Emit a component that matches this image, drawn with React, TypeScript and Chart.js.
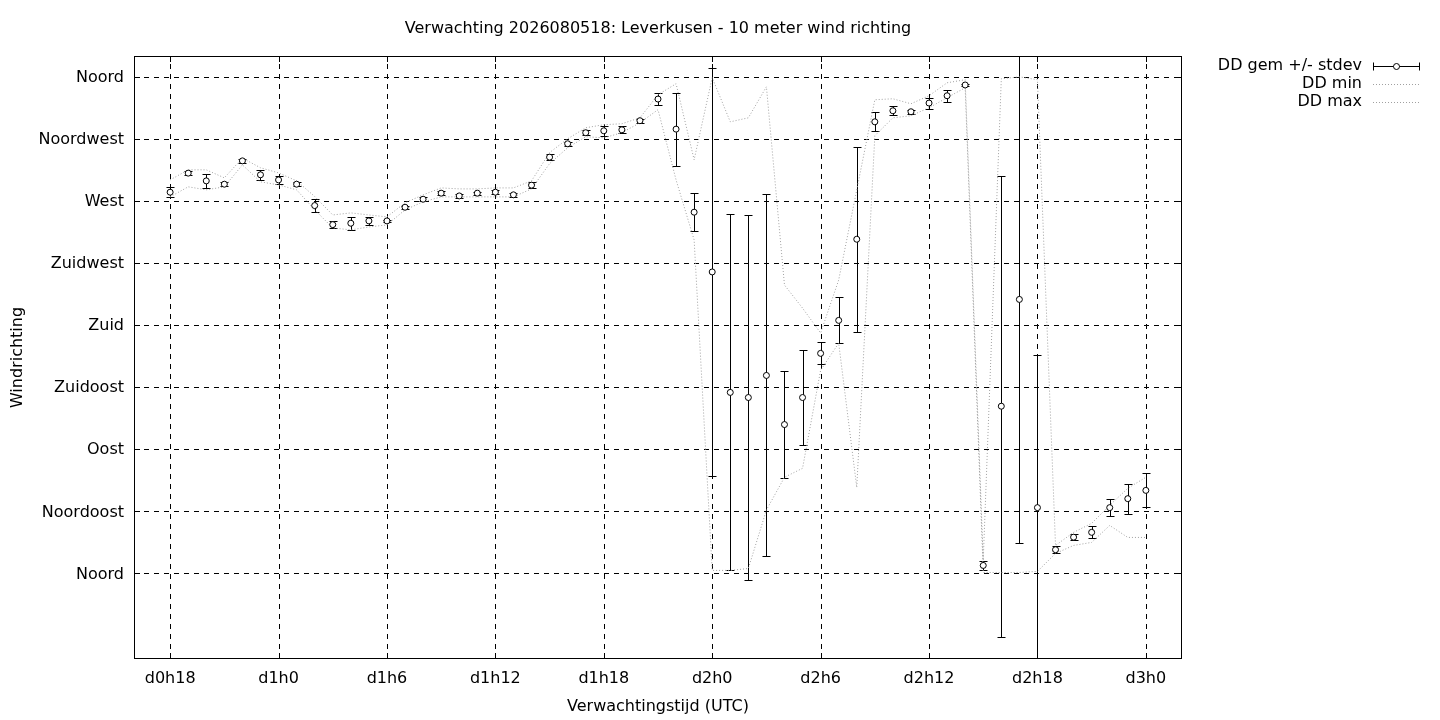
import React, { useEffect, useRef } from "react";
import { Chart, registerables } from "chart.js";

Chart.register(...registerables);

// Forecast hours since d0h0
const hours = [
  18, 19, 20, 21, 22, 23, 24, 25, 26, 27, 28, 29, 30, 31, 32, 33, 34, 35, 36,
  37, 38, 39, 40, 41, 42, 43, 44, 45, 46, 47, 48, 49, 50, 51, 52, 53, 54, 55,
  56, 57, 58, 59, 60, 61, 62, 63, 64, 65, 66, 67, 68, 69, 70, 71, 72,
];

// DD gem (mean wind direction, degrees)
const ddMean = [
  276.3, 290.1, 284.5, 282.1, 299.0, 288.9, 285.2, 282.1, 266.6, 252.8, 253.8,
  255.5, 255.5, 265.4, 271.2, 275.6, 273.6, 275.6, 276.3, 274.4, 281.4, 301.7,
  311.4, 319.4, 320.8, 321.5, 328.1, 343.8, 322.0, 261.8, 218.5, 131.2, 127.5,
  143.5, 107.9, 127.5, 159.5, 183.4, 242.2, 327.3, 335.3, 334.6, 340.9, 346.2,
  354.0, 5.8, 121.2, 198.6, 47.7, 17.2, 26.3, 29.8, 47.7, 54.2, 60.2,
];

// standard deviation (degrees)
const ddStdev = [
  3.6, 1.5, 5.3, 1.5, 1.5, 3.5, 3.0, 1.5, 5.0, 2.7, 4.6, 2.7, 1.0, 1.2, 1.5,
  1.5, 1.5, 1.2, 1.5, 1.5, 2.0, 2.0, 1.5, 2.0, 3.6, 2.5, 1.5, 4.2, 26.5, 13.9,
  148.0, 129.0, 132.6, 131.2, 38.7, 34.3, 7.9, 16.7, 66.9, 7.0, 3.4, 1.5, 4.0,
  4.5, 1.0, 3.1, 167.0, 176.2, 110.5, 2.4, 2.2, 4.4, 6.3, 10.9, 12.3,
];

// DD min
const ddMin = [
  272.9, 280.2, 278.0, 280.2, 296.1, 283.8, 281.6, 278.0, 263.5, 250.4, 249.0,
  251.1, 252.6, 263.5, 269.3, 272.9, 272.9, 272.9, 272.9, 272.9, 278.7, 297.0,
  308.5, 316.5, 315.7, 319.4, 326.6, 336.1, 285.2, 241.7, 2.2, 2.2, 3.6, 46.0,
  69.7, 76.2, 147.3, 166.9, 62.4, 317.2, 330.2, 331.7, 337.5, 344.8, 352.0,
  0.7, 0.7, 0.7, 1.5, 14.5, 20.3, 22.5, 34.8, 26.1, 26.1,
];

// DD max
const ddMax = [
  285.2, 292.5, 292.5, 286.7, 301.0, 294.0, 290.3, 284.5, 273.2, 259.8, 261.3,
  259.8, 258.4, 268.6, 274.4, 279.4, 278.7, 278.7, 279.4, 279.4, 284.5, 305.0,
  315.0, 323.0, 325.2, 325.9, 330.2, 346.9, 354.9, 299.8, 359.3, 327.3, 330.2,
  352.7, 209.0, 192.3, 174.2, 212.7, 278.0, 343.3, 344.0, 340.4, 346.2, 355.6,
  357.8, 9.4, 358.5, 359.9, 357.8, 20.3, 29.8, 36.3, 49.4, 61.7, 69.7,
];

const yTickValues = [0, 45, 90, 135, 180, 225, 270, 315, 360];
const yTickLabels = [
  "Noord", "Noordoost", "Oost", "Zuidoost", "Zuid", "Zuidwest", "West",
  "Noordwest", "Noord",
];
const xTickValues = [18, 24, 30, 36, 42, 48, 54, 60, 66, 72];
const xTickLabels = [
  "d0h18", "d1h0", "d1h6", "d1h12", "d1h18", "d2h0", "d2h6", "d2h12",
  "d2h18", "d3h0",
];

const titleText = "Verwachting 2026080518: Leverkusen - 10 meter wind richting";
const xTitle = "Verwachtingstijd (UTC)";
const yTitle = "Windrichting";
const legendLabels = ["DD gem +/- stdev", "DD min", "DD max"];

const FONT = "16px 'DejaVu Sans', sans-serif";
const DOT_COLOR = "#a0a0a0";

const gnuplotPlugin = {
  id: "gnuplotLook",
  beforeDatasetsDraw(chart: any) {
    const { ctx, chartArea: a, scales } = chart;
    const x = scales.x;
    const y = scales.y;
    ctx.save();
    ctx.strokeStyle = "#000";
    ctx.lineWidth = 1;
    ctx.setLineDash([5, 5]);
    xTickValues.forEach((v) => {
      const px = Math.round(x.getPixelForValue(v)) + 0.5;
      ctx.beginPath();
      ctx.moveTo(px, a.bottom);
      ctx.lineTo(px, a.top);
      ctx.stroke();
    });
    yTickValues.forEach((v) => {
      const py = Math.round(y.getPixelForValue(v)) + 0.5;
      ctx.beginPath();
      ctx.moveTo(a.left, py);
      ctx.lineTo(a.right, py);
      ctx.stroke();
    });
    ctx.setLineDash([]);
    // error bars
    ctx.beginPath();
    ctx.rect(a.left, a.top, a.right - a.left, a.bottom - a.top);
    ctx.clip();
    ctx.strokeStyle = "#000";
    hours.forEach((h, i) => {
      const px = Math.round(x.getPixelForValue(h)) + 0.5;
      const top = Math.round(y.getPixelForValue(ddMean[i] + ddStdev[i])) + 0.5;
      const bot = Math.round(y.getPixelForValue(ddMean[i] - ddStdev[i])) + 0.5;
      ctx.beginPath();
      ctx.moveTo(px, top);
      ctx.lineTo(px, bot);
      ctx.moveTo(px - 4, top);
      ctx.lineTo(px + 4, top);
      ctx.moveTo(px - 4, bot);
      ctx.lineTo(px + 4, bot);
      ctx.stroke();
    });
    ctx.restore();
  },
  afterDatasetsDraw(chart: any) {
    const { ctx, chartArea: a, scales } = chart;
    const x = scales.x;
    const y = scales.y;
    ctx.save();
    ctx.strokeStyle = "#000";
    ctx.lineWidth = 1;
    ctx.setLineDash([]);
    ctx.strokeRect(
      Math.round(a.left) + 0.5,
      Math.round(a.top) + 0.5,
      Math.round(a.right - a.left) - 1,
      Math.round(a.bottom - a.top) - 1
    );
    const T = 6;
    ctx.beginPath();
    xTickValues.forEach((v) => {
      const px = Math.round(x.getPixelForValue(v)) + 0.5;
      ctx.moveTo(px, a.bottom);
      ctx.lineTo(px, a.bottom - T);
      ctx.moveTo(px, a.top);
      ctx.lineTo(px, a.top + T);
    });
    yTickValues.forEach((v) => {
      const py = Math.round(y.getPixelForValue(v)) + 0.5;
      ctx.moveTo(a.left, py);
      ctx.lineTo(a.left + T, py);
      ctx.moveTo(a.right, py);
      ctx.lineTo(a.right - T, py);
    });
    ctx.stroke();
    ctx.restore();
  },
  afterDraw(chart: any) {
    const { ctx, chartArea: a, scales } = chart;
    const x = scales.x;
    const y = scales.y;
    ctx.save();
    ctx.fillStyle = "#000";
    ctx.font = FONT;
    // tick labels
    ctx.textAlign = "right";
    ctx.textBaseline = "middle";
    yTickValues.forEach((v, i) => {
      ctx.fillText(yTickLabels[i], a.left - 10, y.getPixelForValue(v) + 1);
    });
    ctx.textAlign = "center";
    xTickValues.forEach((v, i) => {
      ctx.fillText(xTickLabels[i], x.getPixelForValue(v), a.bottom + 20);
    });
    // titles
    const cx = (a.left + a.right) / 2;
    ctx.fillText(titleText, cx, 29);
    ctx.fillText(xTitle, cx, 707);
    ctx.save();
    ctx.translate(18, (a.top + a.bottom) / 2);
    ctx.rotate(-Math.PI / 2);
    ctx.fillText(yTitle, 0, 0);
    ctx.restore();
    // legend
    const lx0 = 1373;
    const lx1 = 1420;
    const rows = [66, 84, 102];
    ctx.textAlign = "right";
    legendLabels.forEach((t, i) => {
      ctx.fillText(t, 1362, rows[i]);
    });
    ctx.strokeStyle = "#000";
    ctx.lineWidth = 1;
    const r0 = rows[0] + 0.5;
    ctx.beginPath();
    ctx.moveTo(lx0, r0);
    ctx.lineTo(lx1, r0);
    ctx.moveTo(lx0 + 0.5, r0 - 4);
    ctx.lineTo(lx0 + 0.5, r0 + 4);
    ctx.moveTo(lx1 - 0.5, r0 - 4);
    ctx.lineTo(lx1 - 0.5, r0 + 4);
    ctx.stroke();
    ctx.beginPath();
    ctx.arc((lx0 + lx1) / 2, r0, 3, 0, Math.PI * 2);
    ctx.fillStyle = "#fff";
    ctx.fill();
    ctx.stroke();
    ctx.strokeStyle = DOT_COLOR;
    ctx.setLineDash([1, 2]);
    [rows[1], rows[2]].forEach((ry) => {
      ctx.beginPath();
      ctx.moveTo(lx0, ry + 0.5);
      ctx.lineTo(lx1, ry + 0.5);
      ctx.stroke();
    });
    ctx.restore();
  },
};

export default function App() {
  const canvasRef = useRef<HTMLCanvasElement | null>(null);

  useEffect(() => {
    document.body.style.margin = "0";
    const canvas = canvasRef.current;
    if (!canvas) return;
    const chart = new Chart(canvas, {
      type: "line",
      data: {
        datasets: [
          {
            label: legendLabels[0],
            data: hours.map((h, i) => ({ x: h, y: ddMean[i] })),
            showLine: false,
            pointRadius: 3,
            pointHoverRadius: 3,
            pointBackgroundColor: "#ffffff",
            pointBorderColor: "#000000",
            pointBorderWidth: 1,
          },
          {
            label: legendLabels[1],
            data: hours.map((h, i) => ({ x: h, y: ddMin[i] })),
            borderColor: DOT_COLOR,
            borderWidth: 1,
            borderDash: [1, 2],
            pointRadius: 0,
            tension: 0,
            fill: false,
          },
          {
            label: legendLabels[2],
            data: hours.map((h, i) => ({ x: h, y: ddMax[i] })),
            borderColor: DOT_COLOR,
            borderWidth: 1,
            borderDash: [1, 2],
            pointRadius: 0,
            tension: 0,
            fill: false,
          },
        ],
      },
      options: {
        animation: false,
        responsive: false,
        devicePixelRatio: 1,
        events: [],
        layout: { padding: { left: 0, right: 258, top: 56, bottom: 0 } },
        plugins: {
          legend: { display: false },
          title: { display: false },
          tooltip: { enabled: false },
        },
        scales: {
          x: {
            type: "linear",
            min: 16,
            max: 74,
            afterBuildTicks: (s: any) => {
              s.ticks = xTickValues.map((v) => ({ value: v }));
            },
            afterFit: (s: any) => {
              s.height = 61;
            },
            ticks: { display: false },
            grid: { display: false, drawTicks: false },
            border: { display: false },
          },
          y: {
            type: "linear",
            min: -62,
            max: 375,
            afterBuildTicks: (s: any) => {
              s.ticks = yTickValues.map((v) => ({ value: v }));
            },
            afterFit: (s: any) => {
              s.width = 134;
            },
            ticks: { display: false },
            grid: { display: false, drawTicks: false },
            border: { display: false },
          },
        },
      },
      plugins: [gnuplotPlugin],
    });
    return () => chart.destroy();
  }, []);

  return (
    <div style={{ position: "absolute", left: 0, top: 0, width: 1440, height: 720, background: "#fff" }}>
      <canvas ref={canvasRef} width={1440} height={720} style={{ display: "block" }} />
    </div>
  );
}
